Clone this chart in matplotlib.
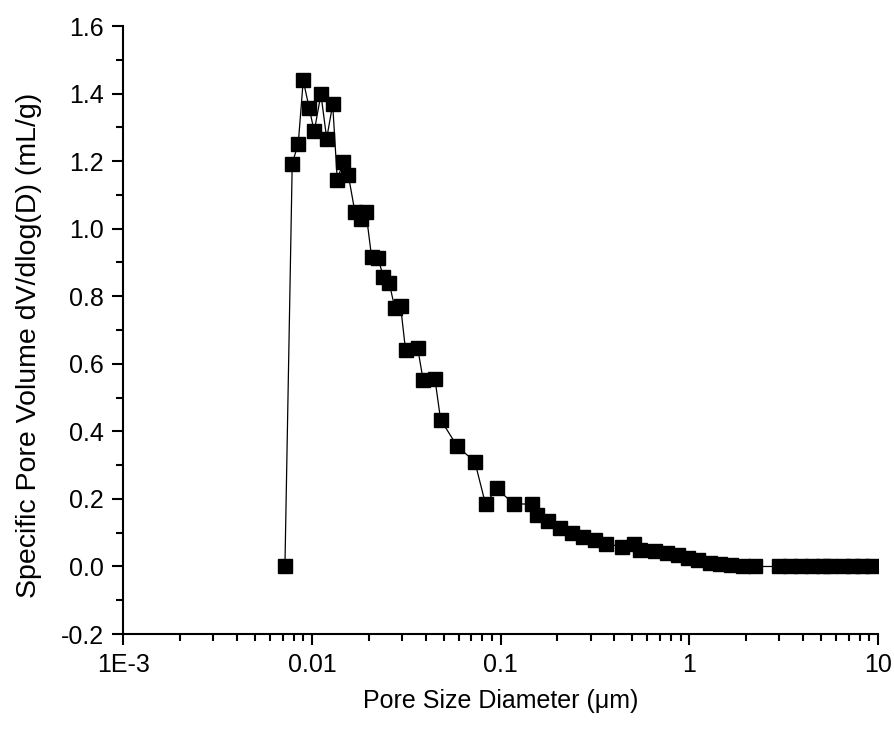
import matplotlib
matplotlib.use("Agg")
import matplotlib.pyplot as plt
import matplotlib.ticker as mticker

plt.rcParams['font.family'] = ['Liberation Sans', 'DejaVu Sans']
plt.rcParams['axes.unicode_minus'] = False

# pore diameter (um) and dV/dlog(D) (mL/g)
diameter = [0.00719, 0.00786, 0.00846, 0.00899, 0.00968, 0.01028, 0.01116, 0.01197,
            0.01288, 0.01362, 0.01465, 0.01558, 0.01690, 0.01812, 0.01933, 0.02073,
            0.02245, 0.02387, 0.02568, 0.02754, 0.02952, 0.03136, 0.03632, 0.03889,
            0.04485, 0.04808, 0.05888, 0.07307, 0.08327, 0.09524, 0.1176, 0.1460,
            0.1563, 0.1788, 0.2062, 0.2378, 0.2719, 0.3160, 0.3644, 0.4378,
            0.5086, 0.5473, 0.6573, 0.7583, 0.8734, 0.9867, 1.115, 1.286,
            1.453, 1.675, 1.930, 2.227, 2.984, 3.413, 3.904, 4.464,
            5.105, 5.562, 6.516, 7.362, 8.217, 9.284]
volume = [0.0, 1.193, 1.252, 1.439, 1.356, 1.288, 1.398, 1.267,
          1.368, 1.145, 1.197, 1.160, 1.049, 1.028, 1.049, 0.915,
          0.913, 0.857, 0.839, 0.764, 0.770, 0.640, 0.648, 0.551,
          0.556, 0.435, 0.356, 0.310, 0.184, 0.231, 0.185, 0.185,
          0.152, 0.135, 0.114, 0.100, 0.088, 0.078, 0.068, 0.058,
          0.066, 0.049, 0.046, 0.041, 0.034, 0.024, 0.019, 0.011,
          0.006, 0.004, 0.001, 0.0, 0.0, 0.0, 0.0, 0.0,
          0.0, 0.0, 0.0, 0.0, 0.0, 0.0]

x_ticks = [1e-3, 1e-2, 1e-1, 1, 10]
x_labels = ["1E-3", "0.01", "0.1", "1", "10"]
y_ticks = [-0.2, 0.0, 0.2, 0.4, 0.6, 0.8, 1.0, 1.2, 1.4, 1.6]
y_labels = ["-0.2", "0.0", "0.2", "0.4", "0.6", "0.8", "1.0", "1.2", "1.4", "1.6"]

fig = plt.figure(figsize=(8.95, 7.33), dpi=100)
ax = fig.add_axes([0.1378, 0.135, 0.843, 0.8295])

ax.plot(diameter, volume, color="black", linewidth=0.9, marker="s",
        markersize=9.5, markerfacecolor="black", markeredgecolor="black")

ax.set_xscale("log")
ax.set_xlim(1e-3, 10)
ax.set_ylim(-0.2, 1.6)

ax.set_xticks(x_ticks)
ax.set_xticklabels(x_labels)
ax.xaxis.set_minor_locator(mticker.LogLocator(base=10, subs=range(2, 10), numticks=20))
ax.xaxis.set_minor_formatter(mticker.NullFormatter())
ax.set_yticks(y_ticks)
ax.set_yticklabels(y_labels)
ax.yaxis.set_minor_locator(mticker.MultipleLocator(0.1))

for side in ["top", "right"]:
    ax.spines[side].set_visible(False)
for side in ["left", "bottom"]:
    ax.spines[side].set_linewidth(1.5)

ax.tick_params(which="major", direction="out", length=8, width=1.5, labelsize=18, pad=6)
ax.tick_params(which="minor", direction="out", length=5, width=1.5)

ax.set_xlabel("Pore Size Diameter (\u03bcm)", fontsize=18, labelpad=8)
ax.set_ylabel("Specific Pore Volume dV/dlog(D) (mL/g)", fontsize=20.5)
ax.yaxis.set_label_coords(-0.108, 0.475)

fig.savefig("out.png", dpi=100)
